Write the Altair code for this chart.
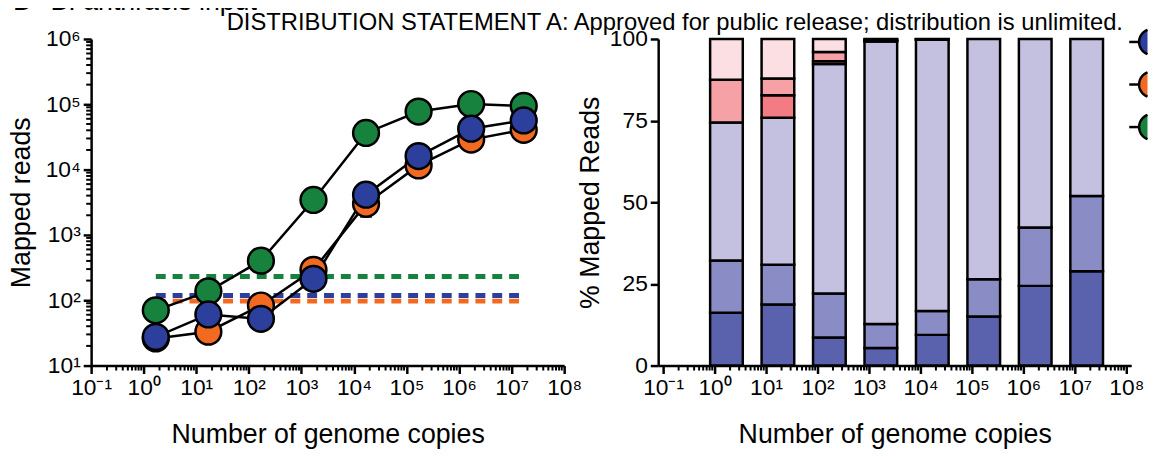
import math
import altair as alt
import pandas as pd

# ---------------- data ----------------
copies = [1.7, 17, 170, 1.7e3, 1.7e4, 1.7e5, 1.7e6, 1.7e7]

series_names = ["Sample 1", "Sample 2", "Sample 3"]          # blue, orange, green (legend order)
series_colors = ["#2c3f9c", "#f26a21", "#17823e"]
draw_order = ["Sample 3", "Sample 2", "Sample 1"]             # green, orange, blue (blue on top)

blue_reads = [27.5, 60.6, 52, 213, 4130, 16100, 42300, 56600]
orange_reads = [26, 33, 83, 292, 2990, 11600, 28800, 40800]
green_reads = [70, 137, 404, 3430, 36400, 77400, 101000, 94400]
threshold_reads = [118, 97, 231]                              # blue, orange, green

err_copies = [1.7e4]
err_low = [1900]
err_high = [2990]

x_decades = [0.1, 1, 10, 100, 1e3, 1e4, 1e5, 1e6, 1e7, 1e8]
x_labels = ["10⁻¹", "10⁰", "10¹", "10²", "10³", "10⁴", "10⁵", "10⁶", "10⁷", "10⁸"]
y_decades = [10, 100, 1e3, 1e4, 1e5, 1e6]
y_labels = ["10¹", "10²", "10³", "10⁴", "10⁵", "10⁶"]
x_minor = [m * 10.0 ** e for e in range(-1, 8) for m in range(2, 10)]
y_minor = [m * 10.0 ** e for e in range(1, 6) for m in range(2, 10)]

seg_names = ["Segment 1", "Segment 2", "Segment 3", "Segment 4", "Segment 5", "Segment 6"]
seg_colors = ["#5a62ad", "#8a8cc6", "#c3c0e0", "#f37b83", "#f6a1a6", "#fbdfe2"]
seg_dark = [16.2, 18.7, 8.6, 5.4, 9.4, 15.0, 24.4, 28.9]
seg_med = [16.0, 12.2, 13.5, 7.3, 7.3, 11.4, 17.9, 23.0]
seg_lav = [42.2, 45.0, 70.2, 86.5, 83.1, 73.6, 57.7, 48.1]
seg_red = [0, 6.9, 0.9, 0.3, 0.1, 0, 0, 0]
seg_pink = [13.1, 5.1, 2.8, 0.3, 0.05, 0, 0, 0]
seg_lpink = [12.5, 12.1, 4.0, 0.2, 0.05, 0, 0, 0]
pct_ticks = [0, 25, 50, 75, 100]

panel_letter = "B"
panel_title = "B. anthracis input"
statement = "DISTRIBUTION STATEMENT A: Approved for public release; distribution is unlimited."

# ---------------- tables ----------------
reads_by_series = {"Sample 1": blue_reads, "Sample 2": orange_reads, "Sample 3": green_reads}
pts = pd.DataFrame(
    [{"series": s, "copies": c, "reads": r, "ord": i}
     for i, s in enumerate(draw_order) for c, r in zip(copies, reads_by_series[s])]
)
thr = pd.DataFrame({"series": series_names, "thr": threshold_reads,
                    "x1": [copies[0]] * 3, "x2": [copies[-1]] * 3})
err = pd.DataFrame({"copies": err_copies, "lo": err_low, "hi": err_high})
leg = pd.DataFrame({"series": series_names})

segs = [seg_dark, seg_med, seg_lav, seg_red, seg_pink, seg_lpink]
bars = pd.DataFrame(
    [{"copies": c, "seg": seg_names[k], "k": k, "pct": vals[j]}
     for k, vals in enumerate(segs) for j, c in enumerate(copies) if vals[j] > 0]
)

FONT = "Liberation Sans"
W, H = 478, 330
DOT = 680


def lab_expr(labels, offset):
    arr = "[" + ",".join("'%s'" % l for l in labels) + "]"
    return "%s[round(log(datum.value)/LN10)%+d]" % (arr, offset)


xscale = alt.Scale(type="log", domain=[0.1, 1e8], nice=False)
yscale_l = alt.Scale(type="log", domain=[10, 1e6], nice=False)
yscale_r = alt.Scale(domain=[0, 100], nice=False)
fill_scale = alt.Scale(domain=series_names, range=series_colors)

axis_common = dict(tickSize=8, tickWidth=2.5, tickColor="black", domainColor="black",
                   domainWidth=2.5, labelColor="black", labelFont=FONT, labelFontSize=23,
                   titleFont=FONT, titleFontSize=27, titleFontWeight="normal",
                   titleColor="black", grid=False, labelOverlap=False, labelFlush=False)

x_axis = alt.Axis(values=x_decades, labelExpr=lab_expr(x_labels, 1), labelPadding=3,
                  title="Number of genome copies", titleY=78, titleBaseline="alphabetic",
                  **axis_common)
y_axis_l = alt.Axis(values=y_decades, labelExpr=lab_expr(y_labels, -1), labelPadding=3,
                    title="Mapped reads", titleX=-56, titleY=H / 2, **axis_common)
y_axis_r = alt.Axis(values=pct_ticks, labelPadding=3, title="% Mapped Reads",
                    titleX=-54, titleY=H / 2, **axis_common)

X = lambda f: alt.X(f, scale=xscale, axis=x_axis)
YL = lambda f: alt.Y(f, scale=yscale_l, axis=y_axis_l)

# ---------------- left panel ----------------
dashed = alt.Chart(thr).mark_rule(strokeWidth=5, strokeDash=[10, 7]).encode(
    x=X("x1:Q"), x2="x2:Q", y=YL("thr:Q"),
    stroke=alt.Stroke("series:N", scale=alt.Scale(domain=series_names, range=series_colors),
                      legend=None),
)
err_rule = alt.Chart(err).mark_rule(color="black", strokeWidth=2.5).encode(
    x=X("copies:Q"), y=YL("lo:Q"), y2="hi:Q")
err_cap = alt.Chart(err).mark_tick(color="black", thickness=2.5, size=12, orient="horizontal").encode(
    x=X("copies:Q"), y=YL("lo:Q"))
lines = alt.Chart(pts).mark_line(color="black", strokeWidth=2.5).encode(
    x=X("copies:Q"), y=YL("reads:Q"), detail="series:N")
points = alt.Chart(pts).mark_circle(size=DOT, stroke="black", strokeWidth=2.5, opacity=1).encode(
    x=X("copies:Q"), y=YL("reads:Q"),
    fill=alt.Fill("series:N", scale=fill_scale, legend=None),
    order=alt.Order("ord:Q"))
xminor_l = alt.Chart(pd.DataFrame({"v": x_minor})).mark_rule(color="black", strokeWidth=2).encode(
    x=X("v:Q"), y=alt.value(H), y2=alt.value(H + 5))
yminor_l = alt.Chart(pd.DataFrame({"v": y_minor})).mark_rule(color="black", strokeWidth=2).encode(
    y=YL("v:Q"), x=alt.value(0), x2=alt.value(-5))

txt_letter = alt.Chart(pd.DataFrame({"t": [panel_letter]})).mark_text(
    font=FONT, fontSize=27, align="left", baseline="alphabetic", color="black").encode(
    text="t:N", x=alt.value(-79), y=alt.value(-29))
txt_title = alt.Chart(pd.DataFrame({"t": [panel_title]})).mark_text(
    font=FONT, fontSize=27, align="left", baseline="alphabetic", color="black").encode(
    text="t:N", x=alt.value(-41), y=alt.value(-29))
txt_statement = alt.Chart(pd.DataFrame({"t": [statement]})).mark_text(
    font=FONT, fontSize=24, align="left", baseline="alphabetic", color="black").encode(
    text="t:N", x=alt.value(137), y=alt.value(-9))

left = alt.layer(dashed, err_rule, err_cap, lines, points, xminor_l, yminor_l,
                 txt_letter, txt_title, txt_statement).properties(width=W, height=H)

# ---------------- right panel ----------------
bar_layer = alt.Chart(bars).mark_bar(size=33, stroke="black", strokeWidth=2.5, opacity=1).encode(
    x=X("copies:Q"),
    y=alt.Y("pct:Q", scale=yscale_r, axis=y_axis_r, stack="zero"),
    color=alt.Color("seg:N", scale=alt.Scale(domain=seg_names, range=seg_colors), legend=None),
    order=alt.Order("k:Q", sort="ascending"))
xminor_r = alt.Chart(pd.DataFrame({"v": x_minor})).mark_rule(color="black", strokeWidth=2).encode(
    x=X("v:Q"), y=alt.value(H), y2=alt.value(H + 5))

# legend symbols, cut by the right edge of the page as in the reference
# (polygonal circle outline so that the symbol bounds stop at the cut)
CUT = -0.35
t0 = math.acos(CUT)
arc_pts = [(math.cos(t0 + (2 * math.pi - 2 * t0) * i / 28),
            math.sin(t0 + (2 * math.pi - 2 * t0) * i / 28)) for i in range(29)]
cut_edge = "M " + " L ".join("%.4f %.4f" % p for p in arc_pts)
cut_fill = cut_edge + " Z"

legy = alt.Scale(type="point", domain=series_names, range=[3, 89], padding=0)
leg_line = alt.Chart(leg).mark_rule(color="black", strokeWidth=2.5).encode(
    y=alt.Y("series:N", scale=legy, axis=None), x=alt.value(476), x2=alt.value(488))
leg_fill = alt.Chart(leg).mark_point(shape=cut_fill, filled=True, size=DOT, strokeWidth=0,
                                     opacity=1).encode(
    y=alt.Y("series:N", scale=legy, axis=None), x=alt.value(499),
    fill=alt.Fill("series:N", scale=fill_scale, legend=None))
leg_edge = alt.Chart(leg).mark_point(shape=cut_edge, filled=False, size=DOT, color="black",
                                     strokeWidth=2.5, opacity=1).encode(
    y=alt.Y("series:N", scale=legy, axis=None), x=alt.value(499))
legend_layer = alt.layer(leg_line, leg_fill, leg_edge)

right = alt.layer(bar_layer, xminor_r, legend_layer).resolve_scale(y="independent").properties(
    width=W, height=H)

chart = alt.hconcat(left, right, spacing=95, bounds="flush").properties(
    padding={"left": 0, "top": -22, "right": 0, "bottom": 0}
).configure(font=FONT).configure_view(stroke=None)

chart.save("out.html", embed_options={"renderer": "svg", "actions": False})
